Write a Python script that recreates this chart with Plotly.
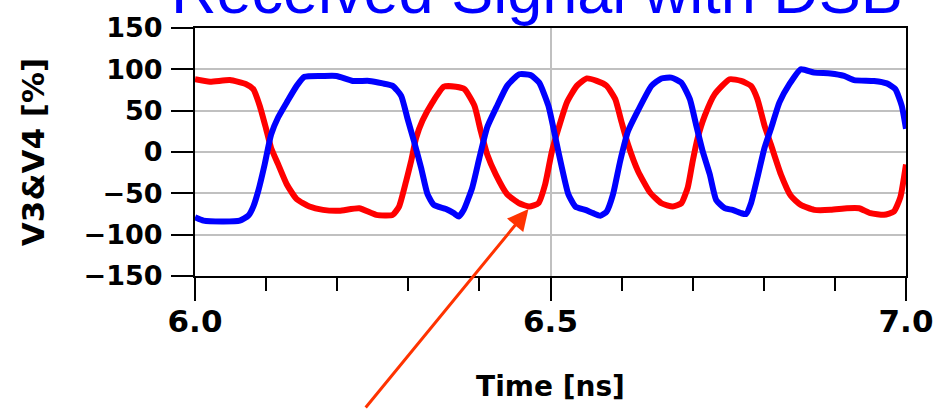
import plotly.graph_objects as go

# Differential pair seen at the receiver (V3 red, V4 blue), percent of swing
t_v3 = [6.000, 6.021, 6.049, 6.072, 6.082, 6.091, 6.100, 6.107, 6.117, 6.129,
        6.143, 6.161, 6.180, 6.203, 6.231, 6.255, 6.278, 6.287, 6.297, 6.304,
        6.311, 6.320, 6.334, 6.350, 6.367, 6.379, 6.393, 6.402, 6.411, 6.423,
        6.439, 6.456, 6.470, 6.483, 6.4925, 6.502, 6.511, 6.523, 6.537, 6.551,
        6.565, 6.579, 6.591, 6.600, 6.609, 6.623, 6.640, 6.656, 6.672, 6.684,
        6.693, 6.700, 6.707, 6.717, 6.731, 6.752, 6.768, 6.782, 6.791, 6.801,
        6.810, 6.824, 6.838, 6.852, 6.871, 6.894, 6.917, 6.934, 6.950, 6.969,
        6.983, 6.992, 7.000]
v3 = [88, 85, 87, 82, 76, 56, 28, 5, -15, -39,
      -57, -66, -70, -71, -68, -76, -76, -66, -35, -11,
      17, 38, 60, 79, 79, 76, 56, 25, -3, -27,
      -51, -62, -66, -62, -39, 1, 28, 60, 80, 89,
      86, 80, 64, 36, 9, -23, -49, -62, -66, -62,
      -43, -11, 17, 44, 70, 88, 86, 80, 64, 32,
      9, -27, -53, -64, -70, -70, -68, -68, -74, -76,
      -72, -55, -15]

t_v4 = [6.000, 6.012, 6.040, 6.063, 6.075, 6.082, 6.089, 6.098, 6.107, 6.117,
        6.129, 6.143, 6.154, 6.180, 6.199, 6.222, 6.245, 6.264, 6.278, 6.290,
        6.299, 6.308, 6.318, 6.327, 6.336, 6.353, 6.364, 6.371, 6.378, 6.390,
        6.400, 6.411, 6.425, 6.439, 6.456, 6.472, 6.484, 6.497, 6.507, 6.516,
        6.525, 6.535, 6.549, 6.560, 6.570, 6.579, 6.588, 6.598, 6.609, 6.623,
        6.642, 6.656, 6.670, 6.684, 6.696, 6.705, 6.714, 6.724, 6.733, 6.745,
        6.756, 6.768, 6.775, 6.782, 6.791, 6.801, 6.810, 6.822, 6.836, 6.852,
        6.871, 6.894, 6.913, 6.927, 6.955, 6.973, 6.985, 6.994, 7.000]
v4 = [-79, -83, -84, -83, -77, -66, -47, -15, 21, 42,
      60, 80, 91, 92, 92, 86, 86, 83, 80, 68,
      40, 13, -19, -51, -64, -69, -74, -78, -70, -43,
      -7, 30, 56, 80, 94, 93, 84, 56, 17, -19,
      -51, -66, -70, -74, -77, -72, -51, -11, 25, 50,
      80, 89, 90, 84, 64, 32, 1, -27, -58, -68,
      -70, -74, -75, -62, -31, 5, 28, 60, 82, 100,
      96, 95, 92, 87, 86, 83, 76, 56, 28]

y_ticks = [-150, -100, -50, 0, 50, 100, 150]

# Point on the V3 trough that the arrow marks
arrow_t = 6.469
arrow_v = -69

label_font = "DejaVu Sans"

fig = go.Figure()
fig.add_trace(go.Scatter(x=t_v3, y=v3, mode="lines", name="V3",
                         line=dict(color="#FF0000", width=6, shape="spline", smoothing=0.5)))
fig.add_trace(go.Scatter(x=t_v4, y=v4, mode="lines", name="V4",
                         line=dict(color="#0000FF", width=6, shape="spline", smoothing=0.5)))

fig.update_layout(
    width=945, height=409,
    margin=dict(l=195, r=36, t=24, b=132),
    paper_bgcolor="white", plot_bgcolor="white",
    showlegend=False,
    xaxis=dict(
        range=[6, 7], tick0=6, dtick=0.5, tickformat=".1f",
        ticks="outside", ticklen=23, tickwidth=1.5, tickcolor="black",
        ticklabelstandoff=-6,
        showgrid=True, gridcolor="#C0C0C0", gridwidth=1.5,
        zeroline=False,
        showline=True, mirror=True, linecolor="black", linewidth=2,
        minor=dict(dtick=0.1, ticks="outside", ticklen=13, tickwidth=1.5,
                   tickcolor="black", showgrid=False),
        tickfont=dict(family=label_font, size=31, color="black", weight="bold"),
        title=dict(text="Time [ns]", standoff=38,
                   font=dict(family=label_font, size=28, color="black", weight="bold")),
    ),
    yaxis=dict(
        range=[-150, 150], tickvals=y_ticks,
        ticks="outside", ticklen=22, tickwidth=1.5, tickcolor="black",
        ticklabelstandoff=3,
        showgrid=True, gridcolor="#C0C0C0", gridwidth=1.5,
        zeroline=False,
        showline=True, mirror=True, linecolor="black", linewidth=2,
        tickfont=dict(family=label_font, size=27, color="black", weight="bold"),
        title=dict(text="V3&V4 [%]", standoff=30,
                   font=dict(family=label_font, size=31, color="black", weight="bold")),
    ),
    annotations=[
        dict(text="Received Signal with DSB", xref="paper", yref="paper",
             x=0.481, y=1.0, xanchor="center", yanchor="bottom", showarrow=False,
             font=dict(family="Liberation Sans", size=63, color="#0000FF")),
        dict(text="", x=arrow_t, y=arrow_v, xref="x", yref="y",
             showarrow=True, ax=-164, ay=208,
             arrowcolor="#FF3300", arrowwidth=3, arrowhead=2, arrowsize=1.4,
             standoff=0),
    ],
)

fig.write_html("out.html")
